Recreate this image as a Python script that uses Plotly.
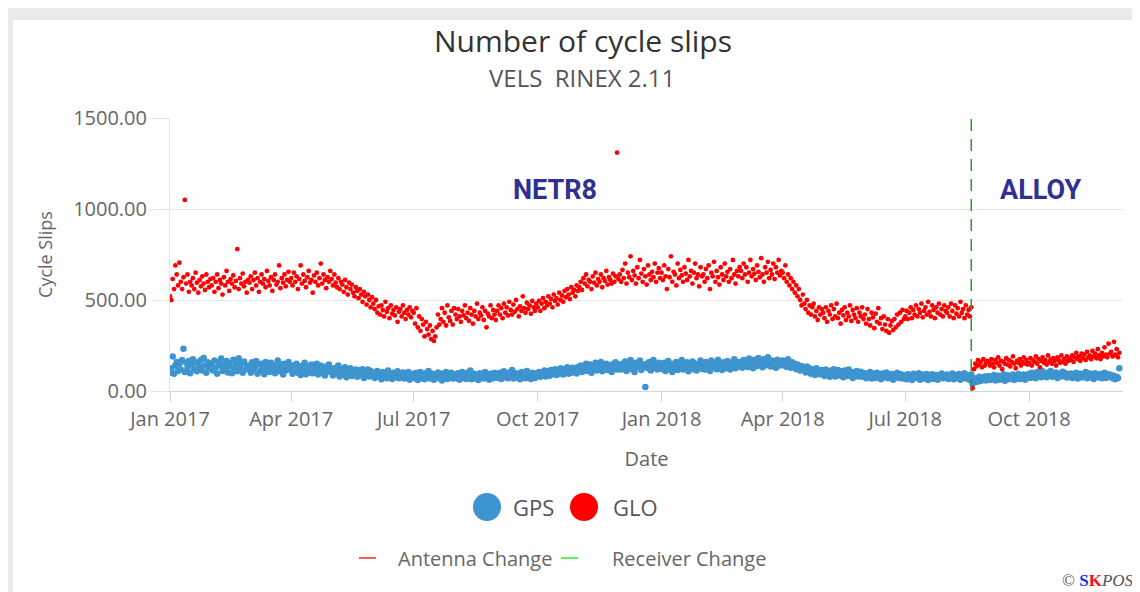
import pandas as pd
import plotly.graph_objects as go

# ---------------- data ----------------
start_date = "2017-01-01"
receiver_change_date = "2018-08-19"

gps_2017 = [
    # Jan
    100,125,190,95,140,160,110,150,118,170,232,105,155,128,165,98,145,175,120,160,108,150,135,170,112,182,140,100,158,125,148,
    # Feb
    150,112,168,128,95,160,140,178,110,145,125,165,102,150,135,98,172,120,148,108,180,130,155,100,162,118,140,125,
    # Mar
    140,100,158,118,132,165,95,145,110,150,128,92,160,120,138,105,155,115,142,98,130,168,108,148,120,90,150,112,135,160,118,
    # Apr
    130,95,142,108,150,100,125,88,138,112,155,92,120,135,102,145,98,128,110,150,90,118,140,100,126,85,135,112,145,105,
    # May
    118,85,125,95,110,140,80,105,120,90,130,75,112,98,125,82,108,92,118,78,115,100,86,120,72,104,95,118,80,110,90,
    # Jun
    100,72,95,110,78,92,65,105,85,98,70,112,80,90,66,100,88,75,108,70,95,82,102,68,90,78,105,62,92,85,
    # Jul
    95,70,100,60,88,105,72,92,65,98,80,110,68,85,95,62,90,75,102,70,88,58,96,80,105,66,92,74,100,68,86,
    # Aug
    92,70,98,62,85,105,72,90,66,100,78,112,64,88,95,70,84,60,98,76,92,68,104,74,86,62,95,80,70,100,78,
    # Sep
    95,72,100,66,88,108,75,92,70,102,80,115,68,90,98,74,86,64,104,80,92,70,110,78,94,66,100,84,72,98,
    # Oct
    90,105,78,100,85,112,80,98,108,84,115,92,100,120,88,110,95,125,102,90,118,106,130,95,112,100,128,108,120,96,132,
    # Nov
    118,140,105,135,122,150,110,130,145,100,138,125,155,112,140,128,160,108,135,120,150,115,142,130,105,148,125,158,118,138,
    # Dec
    145,118,150,128,162,110,140,135,170,120,148,105,155,132,140,168,115,145,130,22,150,125,160,112,142,170,128,138,118,155,135,
]

gps_2018 = [
    # Jan
    148,120,155,110,140,165,125,135,105,150,128,160,115,142,130,170,118,145,125,158,108,140,132,162,120,150,112,145,135,168,122,
    # Feb
    150,118,160,130,145,110,168,128,140,155,120,172,132,148,115,158,138,125,165,142,118,155,130,175,125,148,160,135,
    # Mar
    160,128,170,140,155,132,178,145,160,125,172,150,138,182,148,160,130,175,155,142,185,150,135,168,148,160,128,172,150,140,165,
    # Apr
    168,140,160,132,175,145,128,158,138,150,120,145,130,112,138,118,128,102,135,110,125,95,118,108,88,125,100,112,92,115,
    # May
    110,82,118,90,105,78,112,95,120,80,100,115,85,108,92,75,112,98,82,118,90,104,72,100,88,110,80,96,106,78,95,
    # Jun
    98,70,92,80,105,68,88,95,72,100,78,90,65,96,84,75,102,70,88,80,94,62,90,78,100,72,86,92,68,82,
    # Jul
    88,65,92,72,80,60,95,70,85,76,98,62,82,90,68,78,94,60,86,74,92,66,80,88,62,84,72,96,70,80,76,
    # Aug
    90,66,84,72,96,64,80,88,70,94,62,82,76,98,68,86,74,60,90,40,58,70,50,66,78,55,72,62,80,58,74,
    # Sep
    82,60,78,66,88,58,74,84,62,80,70,92,56,76,86,64,78,70,90,60,82,72,94,66,84,74,90,62,80,76,
    # Oct
    95,72,100,80,92,70,105,85,98,76,108,82,94,75,100,88,110,78,96,84,102,72,95,90,80,106,86,98,74,92,88,
    # Nov
    96,72,90,80,100,68,88,95,74,92,82,104,70,86,96,76,90,66,98,80,88,74,94,70,86,100,72,84,92,78,
    # Dec
    88,70,82,64,78,72,125,
]

glo_2017 = [
    # Jan
    520,500,615,560,690,640,580,705,600,560,625,1050,590,640,545,600,580,620,560,650,595,540,610,575,630,590,555,640,600,570,615,
    # Feb
    580,620,545,600,640,565,610,590,530,625,580,660,600,550,615,590,635,570,605,780,560,620,590,645,575,600,540,610,
    # Mar
    595,630,560,610,650,580,620,545,600,640,590,615,570,660,605,580,625,550,610,640,585,600,690,565,620,595,640,575,610,655,600,
    # Apr
    620,580,650,600,630,560,615,690,590,640,605,570,625,660,595,610,540,635,600,650,580,620,700,590,640,610,565,625,600,660,
    # May
    615,580,640,595,570,620,560,600,585,545,610,570,530,595,560,585,540,520,570,550,510,560,530,490,545,520,475,530,500,460,515,
    # Jun
    480,450,500,430,465,420,470,445,410,490,435,455,400,470,425,445,415,460,380,435,450,410,470,430,395,445,420,460,405,440,
    # Jul
    430,370,455,350,410,330,395,365,300,380,340,310,360,285,330,275,300,350,420,365,395,455,380,430,360,470,405,385,440,365,455,
    # Aug
    420,395,450,410,380,440,415,470,400,430,385,455,420,370,440,410,480,395,430,415,460,390,440,350,425,410,470,400,445,420,390,
    # Sep
    440,470,420,455,400,480,430,460,415,490,445,420,475,435,500,450,410,465,440,520,455,430,485,450,470,425,495,460,440,480,
    # Oct
    460,495,440,480,510,455,490,470,520,480,505,460,530,495,510,475,540,500,525,490,550,515,560,530,505,570,540,555,520,580,550,
    # Nov
    570,600,555,620,590,640,575,610,600,560,630,595,650,580,615,600,640,570,620,605,660,585,625,610,590,645,600,630,1310,615,
    # Dec
    640,600,665,620,700,590,650,625,740,610,660,635,590,680,620,720,645,600,670,630,585,690,640,610,655,625,700,600,650,675,620,
]

glo_2018 = [
    # Jan
    650,610,690,630,560,670,625,740,600,655,640,580,700,620,665,635,600,680,645,610,720,630,660,590,650,700,620,640,575,680,630,
    # Feb
    640,600,670,620,690,560,650,630,710,600,660,625,585,680,640,610,700,630,655,600,670,620,720,640,590,660,630,680,
    # Mar
    660,620,700,640,680,600,650,720,630,670,645,610,690,655,625,730,640,600,680,650,710,620,665,640,700,615,680,650,720,635,660,
    # Apr
    650,620,690,600,640,580,620,560,600,540,580,520,560,500,470,530,480,450,500,430,470,420,460,480,410,440,390,460,420,450,
    # May
    430,400,460,380,440,420,470,395,450,410,480,400,430,370,445,415,460,390,430,410,470,385,445,420,400,455,380,430,410,460,395,
    # Jun
    420,370,450,395,360,430,405,345,425,380,455,370,400,340,410,365,330,395,320,360,385,335,395,350,420,365,430,380,445,395,
    # Jul
    410,440,395,430,460,400,445,420,470,410,450,430,480,405,440,460,420,490,435,410,470,445,400,460,430,480,420,450,410,470,440,
    # Aug
    430,460,410,480,440,400,470,425,455,410,490,430,450,400,470,420,445,410,460,15,120,150,135,170,145,160,130,175,140,155,165,
    # Sep
    160,140,175,150,130,170,155,185,140,165,120,160,150,180,145,170,135,160,190,150,125,165,155,175,140,160,185,150,170,145,
    # Oct
    155,180,140,170,160,190,150,175,130,165,185,155,170,145,195,160,175,150,180,165,140,185,170,155,195,160,175,150,190,165,180,
    # Nov
    170,195,160,185,210,175,190,165,205,180,200,170,215,185,195,175,220,190,205,180,230,195,175,210,190,240,200,185,260,205,
    # Dec
    215,190,270,200,230,185,210,
]

y_ticks = [0, 500, 1000, 1500]
x_range = ["2017-01-01", "2018-12-09 17:00"]
y_range = [0, 1500]

gps = gps_2017 + gps_2018
glo = glo_2017 + glo_2018
gps_dates = pd.date_range(start_date, periods=len(gps), freq="D")
glo_dates = pd.date_range(start_date, periods=len(glo), freq="D")

BLUE = "#3d94cf"
RED = "#ff0000"
GREEN_DARK = "#2f9a2f"
FONT = "Open Sans, DejaVu Sans, sans-serif"

# ---------------- figure ----------------
# page (screenshot) coordinates: figure is drawn from page (8, 8)
OFF = 8
W, H = 1140 - OFF, 592 - OFF
PL, PR, PT, PB = 170, 1123, 118, 391          # plot area in page pixels
L, R, T, B = PL - OFF, (W + OFF) - PR, PT - OFF, (H + OFF) - PB
pw, ph = PR - PL, PB - PT


def px(x):
    return (x - PL) / pw


def py(y):
    return (PB - y) / ph


fig = go.Figure()
fig.add_trace(go.Scatter(x=gps_dates, y=gps, mode="markers", name="GPS",
                         marker=dict(color=BLUE, size=6.5), showlegend=False))
fig.add_trace(go.Scatter(x=glo_dates, y=glo, mode="markers", name="GLO",
                         marker=dict(color=RED, size=4.8), showlegend=False))
fig.add_trace(go.Scatter(x=[receiver_change_date, receiver_change_date], y=y_range,
                         mode="lines", name="Receiver Change",
                         line=dict(color=GREEN_DARK, width=1.5, dash="12px,8px"),
                         showlegend=False))

fig.update_layout(
    width=W, height=H,
    margin=dict(l=L, r=R, t=T, b=B),
    paper_bgcolor="#ebebeb",
    plot_bgcolor="white",
    showlegend=False,
    font=dict(family=FONT, color="#666666"),
)

fig.update_xaxes(
    range=x_range, type="date",
    tick0="2017-01-01", dtick="M3", tickformat="%b %Y",
    showgrid=False, zeroline=False,
    showline=True, linecolor="#ccd6eb", linewidth=1,
    ticks="outside", ticklen=10, tickcolor="#ccd6eb",
    tickfont=dict(size=20, color="#666666", family=FONT),
    title=dict(text="Date", font=dict(size=20, color="#666666", family=FONT), standoff=20),
)
fig.update_yaxes(
    range=y_range, tickvals=y_ticks, tickformat=".2f",
    showgrid=True, gridcolor="#e6e6e6", gridwidth=1, zeroline=False,
    showline=True, linecolor="#e6e6e6", linewidth=1,
    ticks="outside", ticklen=18, tickcolor="#e6e6e6",
    tickfont=dict(size=20, color="#666666", family=FONT),
    title=dict(text="Cycle Slips", font=dict(size=18, color="#666666", family=FONT), standoff=15),
)

shapes = [
    # white card behind everything
    dict(type="rect", xref="paper", yref="paper", layer="below",
         x0=px(12), x1=px(1150), y0=py(600), y1=py(19),
         fillcolor="white", line=dict(color="#dcdcdc", width=1)),
    # legend symbols
    dict(type="circle", xref="paper", yref="paper", xsizemode="pixel", ysizemode="pixel",
         xanchor=px(487), yanchor=py(507), x0=-14, x1=14, y0=-14, y1=14,
         fillcolor=BLUE, line=dict(width=0)),
    dict(type="circle", xref="paper", yref="paper", xsizemode="pixel", ysizemode="pixel",
         xanchor=px(584), yanchor=py(507), x0=-14, x1=14, y0=-14, y1=14,
         fillcolor=RED, line=dict(width=0)),
    dict(type="line", xref="paper", yref="paper", x0=px(359), x1=px(376), y0=py(558), y1=py(558),
         line=dict(color="#ff5b5b", width=2)),
    dict(type="line", xref="paper", yref="paper", x0=px(561), x1=px(578), y0=py(558), y1=py(558),
         line=dict(color="#5ef05e", width=2)),
]
fig.update_layout(shapes=shapes)

ann = [
    dict(text="Number of cycle slips", x=px(583), y=py(41), font=dict(size=30, color="#333333")),
    dict(text="VELS&nbsp;&nbsp;RINEX 2.11", x=px(582), y=py(77), font=dict(size=24, color="#555555")),
    dict(text="<b>NETR8</b>", x=px(555), y=py(190),
         font=dict(size=27, color="#2e3192", family="Roboto, Arial, sans-serif")),
    dict(text="<b>ALLOY</b>", x=px(1041), y=py(190),
         font=dict(size=27, color="#2e3192", family="Roboto, Arial, sans-serif")),
    dict(text="GPS", x=px(511), y=py(507), xanchor="left",
         font=dict(size=22, color="#555555")),
    dict(text="GLO", x=px(611), y=py(507), xanchor="left",
         font=dict(size=22, color="#555555")),
    dict(text="Antenna Change", x=px(396), y=py(558), xanchor="left",
         font=dict(size=20, color="#666666")),
    dict(text="Receiver Change", x=px(610), y=py(558), xanchor="left",
         font=dict(size=20, color="#666666")),
    dict(text="© <b><span style='color:#2030ff'>S</span><span style='color:#ff1010'>K</span></b><i>POS</i>",
         x=px(1136), y=py(580), xanchor="right",
         font=dict(size=17, color="#555555", family="Liberation Serif, DejaVu Serif, serif")),
]
for a in ann:
    a.setdefault("xanchor", "center")
    a.update(xref="paper", yref="paper", showarrow=False, yanchor="middle")
fig.update_layout(annotations=ann)

fig.write_html("out.html")
